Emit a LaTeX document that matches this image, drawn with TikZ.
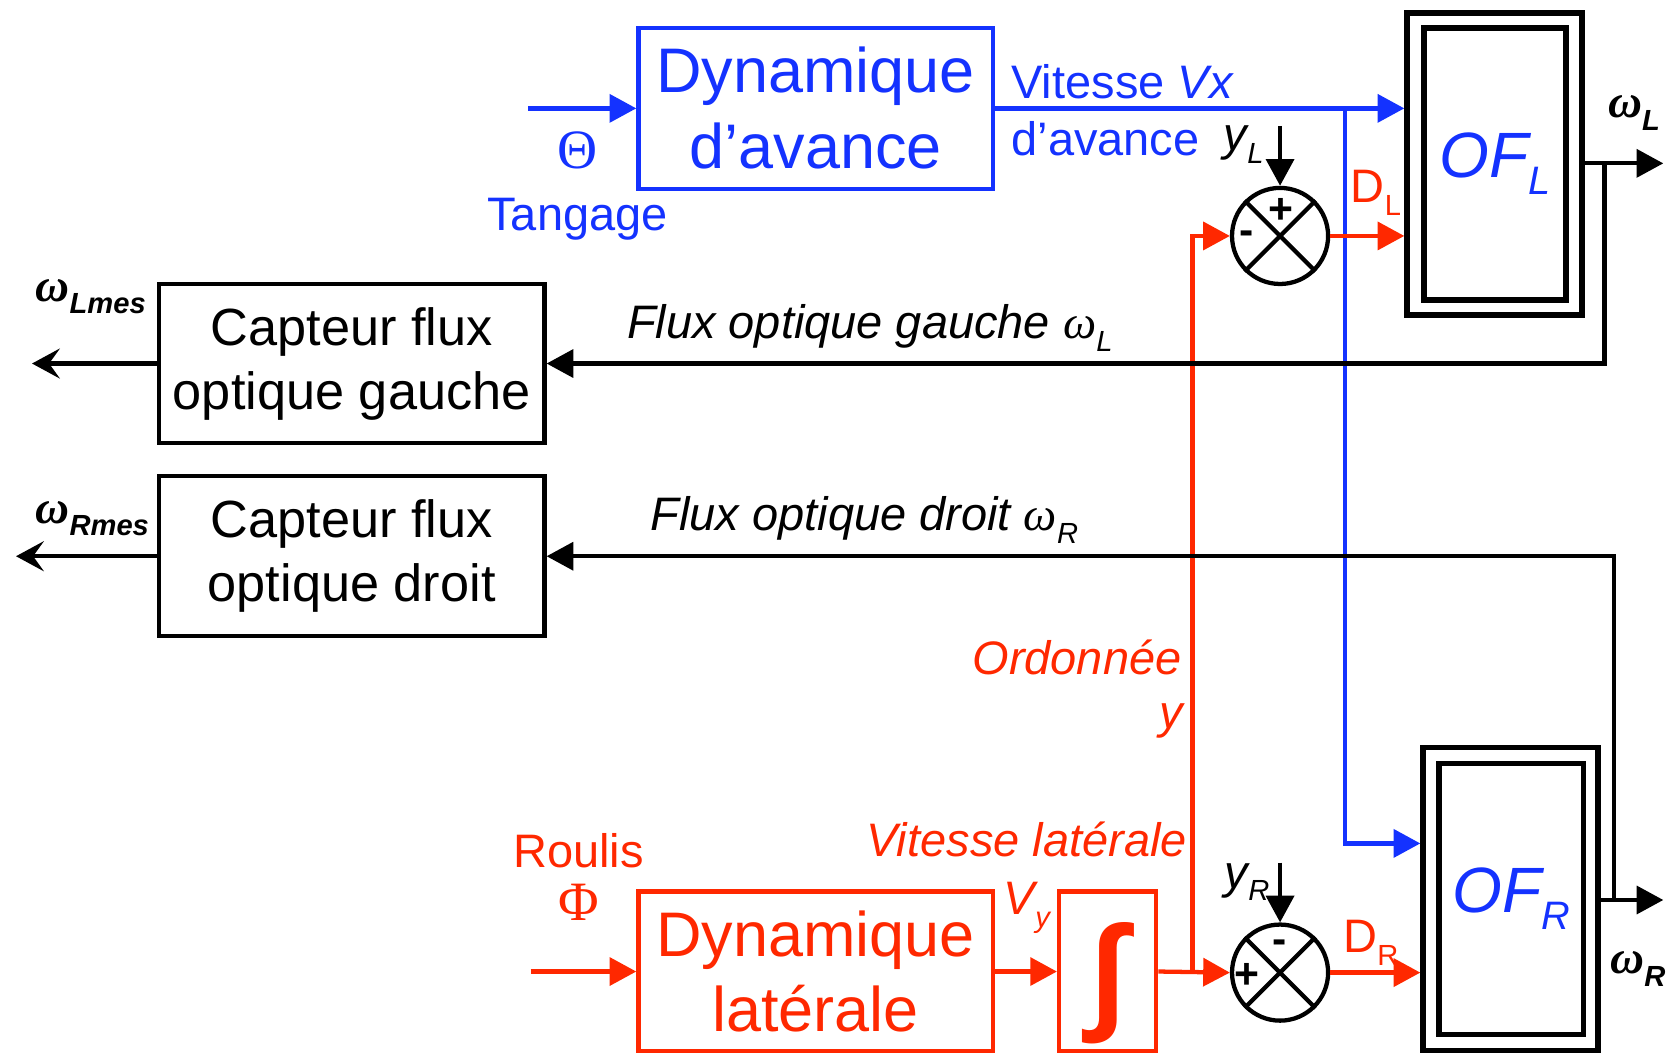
\documentclass[tikz,border=0pt]{standalone}
\usepackage{fontspec}
\usepackage{graphicx}
\setmainfont{Liberation Sans}
\newfontfamily\symf{Liberation Serif}
\usetikzlibrary{arrows.meta}
\definecolor{dblue}{RGB}{20,50,255}
\definecolor{dred}{RGB}{255,40,0}
\newcommand{\fA}{\fontsize{29.5}{35.5}\selectfont}
\newcommand{\fB}{\fontsize{24.5}{30}\selectfont}
\newcommand{\fC}{\fontsize{22}{26}\selectfont}
\newcommand{\fD}{\fontsize{30}{34}\selectfont}
\newcommand{\sbs}[1]{\raisebox{-0.27em}{\scalebox{0.62}{#1}}}
\newcommand{\omg}{{\symf\itshape ω}}
\newcommand{\omgb}{{\symf\bfseries\itshape ω}}
\tikzset{
  tip/.style={-{Triangle[length=12.5pt,width=13pt]}},
  barr/.style={line width=2pt, draw=dblue, tip},
  rarr/.style={line width=2pt, draw=dred, tip},
  karr/.style={line width=2pt, draw=black, tip},
  sarr/.style={line width=2pt, draw=black, -{Stealth[length=13pt,width=14pt,inset=5pt]}},
  blk/.style={draw, line width=2pt, align=center, inner sep=0pt},
  ofbox/.style={draw, line width=2.6pt, inner sep=0pt},
  sumj/.style={draw, circle, line width=2pt, minimum size=45pt, inner sep=0pt},
  lbl/.style={inner sep=0pt, font=\fC},
  sgn/.style={inner sep=0pt, font=\fontsize{20}{20}\selectfont\bfseries},
}
\begin{document}
\begin{tikzpicture}[x=0.5pt,y=-0.5pt]
\useasboundingbox (0,0) rectangle (1568,986);

% ---- blocks ----
\node[blk, draw=dblue, text=dblue, minimum width=166pt, minimum height=75.5pt, font=\fA] (davance) at (764,101.5) {Dynamique\\d’avance};
\node[blk, minimum width=180.5pt, minimum height=74.5pt, font=\fB] (capg) at (329.5,340.5) {Capteur flux\\optique gauche};
\node[blk, minimum width=180.5pt, minimum height=75pt, font=\fB] (capd) at (329.5,521) {Capteur flux\\optique droit};
\node[blk, draw=dred, text=dred, minimum width=166pt, minimum height=75pt, font=\fA] (dlat) at (764,910) {Dynamique\\latérale};
\node[blk, draw=dred, minimum width=45.5pt, minimum height=75pt] (integ) at (1037.5,910) {};
\node[inner sep=0pt, text=dred, font=\fontsize{60}{60}\selectfont\bfseries] (intsym) at (1037.5,921) {∫};

\node[ofbox, minimum width=82pt, minimum height=141.5pt] (OFL) at (1400,153.5) {};
\node[ofbox, minimum width=66.5pt, minimum height=127.5pt, text=dblue, font=\fD\itshape] (OFLi) at (1400.5,153.5) {OF\sbs{L}};
\node[ofbox, minimum width=82pt, minimum height=142pt] (OFR) at (1415,842) {};
\node[ofbox, minimum width=67.5pt, minimum height=127pt, text=dblue, font=\fD\itshape] (OFRi) at (1415.5,842) {OF\sbs{R}};

\node[sumj] (sumL) at (1199,221) {};
\node[sumj] (sumR) at (1199,911) {};
\draw[line width=2pt] (sumL.north west) -- (sumL.south east) (sumL.north east) -- (sumL.south west);
\draw[line width=2pt] (sumR.north west) -- (sumR.south east) (sumR.north east) -- (sumR.south west);
\node[sgn] (pL) at (1200,198) {+};
\node[sgn] (mL) at (1168,223) {-};
\node[sgn] (mR) at (1199,887) {-};
\node[sgn] (pR) at (1168,914) {+};

% ---- free ends ----
\coordinate (inT) at (495,101.5);
\coordinate (inP) at (497,910);
\coordinate (oLm) at (30,340.5);
\coordinate (oRm) at (15,521);
\coordinate (oL) at (1558,153);
\coordinate (oR) at (1558,843);
\coordinate (fL) at (1503,153);
\coordinate (fR) at (1512,843);
\coordinate (bj) at (1260,101.5);
\coordinate (jy) at (1117,910);
\coordinate (yLs) at (1199,118);
\coordinate (yRs) at (1199,808);

% ---- connectors ----
\draw[barr] (inT) -- (davance.west);
\draw[barr] (davance.east) -- (davance.east -| OFL.west);
\draw[barr] (bj) |- ([yshift=26pt]OFR.west);
\draw[rarr] (inP) -- (dlat.west);
\draw[rarr] (dlat.east) -- (integ.west);
\draw[rarr] (integ.east) -- (sumR.west);
\draw[rarr] (jy) |- (sumL.west);
\draw[rarr] (sumL.east) -- (sumL.east -| OFL.west);
\draw[rarr] (sumR.east) -- (sumR.east -| OFR.west);
\draw[karr] (yLs) -- (sumL.north);
\draw[karr] (yRs) -- (sumR.north);
\draw[karr] (OFL.east |- oL) -- (oL);
\draw[karr] (OFR.east |- oR) -- (oR);
\draw[karr] (fL) |- (capg.east);
\draw[karr] (fR) |- (capd.east);
\draw[sarr] (capg.west) -- (oLm);
\draw[sarr] (capd.west) -- (oRm);

% ---- labels ----
\node[lbl, text=dblue, anchor=base, font=\fontsize{26}{30}\selectfont\symf] (theta) at (541,158) {Θ};
\node[lbl, text=dblue, anchor=base] (tang) at (541,216) {Tangage};
\node[lbl, text=dred, anchor=base] (roul) at (542,813) {Roulis};
\node[lbl, text=dred, anchor=base, font=\fontsize{26}{30}\selectfont\symf] (phi) at (542,862) {Φ};
\node[lbl, text=dblue, anchor=base west] (vx) at (947,92) {Vitesse \textit{Vx}};
\node[lbl, text=dblue, anchor=base west] (dav) at (947,146) {d’avance};
\node[lbl, anchor=base west, font=\fC\itshape] (yL) at (1146,141) {y\sbs{L}};
\node[lbl, anchor=base west, font=\fC\itshape] (yR) at (1147,832) {y\sbs{R}};
\node[lbl, text=dred, anchor=base west] (DL) at (1265,190) {D\sbs{L}};
\node[lbl, text=dred, anchor=base west] (DR) at (1258,892) {D\sbs{R}};
\node[lbl, anchor=base west, font=\fC\itshape] (flg) at (587,317) {Flux optique gauche \omg\sbs{L}};
\node[lbl, anchor=base west, font=\fC\itshape] (fld) at (609,497) {Flux optique droit \omg\sbs{R}};
\node[lbl, text=dred, anchor=base east, font=\fC\itshape] (vlat) at (1112,802) {Vitesse latérale};
\node[lbl, text=dred, anchor=base west, font=\fC\itshape] (vy) at (940,857) {V\sbs{y}};
\node[lbl, text=dred, anchor=base east, font=\fC\itshape] (ord) at (1107,632) {Ordonnée};
\node[lbl, text=dred, anchor=base east, font=\fC\itshape] (ordy) at (1108,682) {y};
\node[lbl, anchor=base west, font=\fC\bfseries\itshape] (wLm) at (33,282) {\omgb\sbs{Lmes}};
\node[lbl, anchor=base west, font=\fC\bfseries\itshape] (wRm) at (33,490) {\omgb\sbs{Rmes}};
\node[lbl, anchor=base west, font=\fC\bfseries\itshape] (wL) at (1506,110) {\omgb\sbs{L}};
\node[lbl, anchor=base west, font=\fC\bfseries\itshape] (wR) at (1508,912) {\omgb\sbs{R}};
\end{tikzpicture}
\end{document}
